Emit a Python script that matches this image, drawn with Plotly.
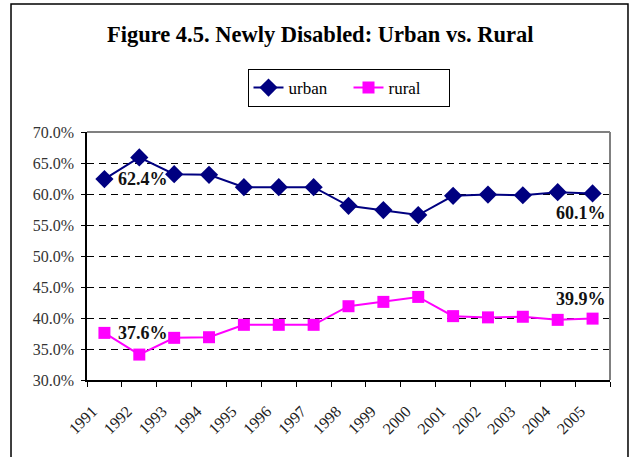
import plotly.graph_objects as go

years = ["1991", "1992", "1993", "1994", "1995", "1996", "1997", "1998",
         "1999", "2000", "2001", "2002", "2003", "2004", "2005"]
urban = [62.4, 65.9, 63.2, 63.1, 61.1, 61.1, 61.1, 58.1, 57.4, 56.6, 59.7, 59.9, 59.8, 60.3, 60.1]
rural = [37.6, 34.1, 36.8, 36.9, 38.9, 38.9, 38.9, 41.9, 42.6, 43.4, 40.3, 40.1, 40.2, 39.7, 39.9]
y_ticks = [30, 35, 40, 45, 50, 55, 60, 65, 70]

SERIF = "Liberation Serif, Times New Roman, serif"

fig = go.Figure()
fig.add_trace(go.Scatter(
    x=years, y=urban, name="urban", mode="lines+markers",
    line=dict(color="#000080", width=2),
    marker=dict(symbol="diamond", size=14, color="#000080"),
))
fig.add_trace(go.Scatter(
    x=years, y=rural, name="rural", mode="lines+markers",
    line=dict(color="#FF00FF", width=2),
    marker=dict(symbol="square", size=12, color="#FF00FF"),
))

first, last = 0, len(years) - 1
ann_font = dict(family=SERIF, size=18, color="#111111")
annotations = [
    dict(x=first, y=urban[first], text=f"<b>{urban[first]:.1f}%</b>", showarrow=False,
         xanchor="left", yanchor="middle", xshift=12, yshift=0, font=ann_font),
    dict(x=first, y=rural[first], text=f"<b>{rural[first]:.1f}%</b>", showarrow=False,
         xanchor="left", yanchor="middle", xshift=12, yshift=0, font=ann_font),
    dict(x=last, y=urban[last], text=f"<b>{urban[last]:.1f}%</b>", showarrow=False,
         xanchor="right", yanchor="middle", xshift=15, yshift=-20, font=ann_font),
    dict(x=last, y=rural[last], text=f"<b>{rural[last]:.1f}%</b>", showarrow=False,
         xanchor="right", yanchor="middle", xshift=15, yshift=20, font=ann_font),
]

shapes = [
    # outer chart border
    dict(type="rect", xref="paper", yref="paper", x0=-0.1453, x1=1.0344, y0=-0.40, y1=1.516,
         line=dict(color="#000000", width=1.5), fillcolor="rgba(0,0,0,0)", layer="below"),
    # plot area grey top and right border
    dict(type="line", xref="paper", yref="paper", x0=0, x1=1, y0=1, y1=1,
         line=dict(color="#808080", width=2), layer="above"),
    dict(type="line", xref="paper", yref="paper", x0=1, x1=1, y0=0, y1=1,
         line=dict(color="#808080", width=2), layer="above"),
]

fig.update_layout(
    width=629, height=457,
    margin=dict(l=87, r=19, t=132, b=77),
    paper_bgcolor="white", plot_bgcolor="white",
    font=dict(family=SERIF, color="#222222"),
    title=dict(text="<b>Figure 4.5. Newly Disabled: Urban vs. Rural</b>",
               x=0.509, xref="container", xanchor="center",
               y=1 - 34 / 457, yref="container", yanchor="middle",
               font=dict(family=SERIF, size=22.5, color="#000000")),
    legend=dict(orientation="h", x=0.5, xanchor="center", y=1.254, yanchor="top",
                xref="paper", yref="paper",
                bordercolor="#000000", borderwidth=1, bgcolor="white",
                font=dict(family=SERIF, size=17, color="#000000"),
                itemwidth=30, tracegroupgap=0,
                entrywidth=55, entrywidthmode="pixels"),
    showlegend=True,
    annotations=annotations,
    shapes=shapes,
)

fig.update_xaxes(
    type="category", categoryorder="array", categoryarray=years,
    range=[-0.5, len(years) - 0.5],
    showline=True, linecolor="#000000", linewidth=1.5,
    ticks="outside", ticklen=5, tickcolor="#000000", tickwidth=1,
    tickson="boundaries", tickangle=-45, ticklabelstandoff=14, ticklabelshift=-12,
    tickfont=dict(family=SERIF, size=16, color="#222222"),
    showgrid=False, zeroline=False,
)
fig.update_yaxes(
    range=[30, 70], tickvals=y_ticks,
    ticktext=[f"{v:.1f}%" for v in y_ticks],
    showline=True, linecolor="#000000", linewidth=1.5,
    ticks="outside", ticklen=4, tickcolor="#000000", ticklabelstandoff=4,
    tickfont=dict(family=SERIF, size=16, color="#333333"),
    showgrid=True, gridcolor="#000000", gridwidth=1, griddash="7px,5px",
    zeroline=False,
)

fig.write_html("out.html", config={"displayModeBar": False},
               post_script="document.body.style.margin='0';")
